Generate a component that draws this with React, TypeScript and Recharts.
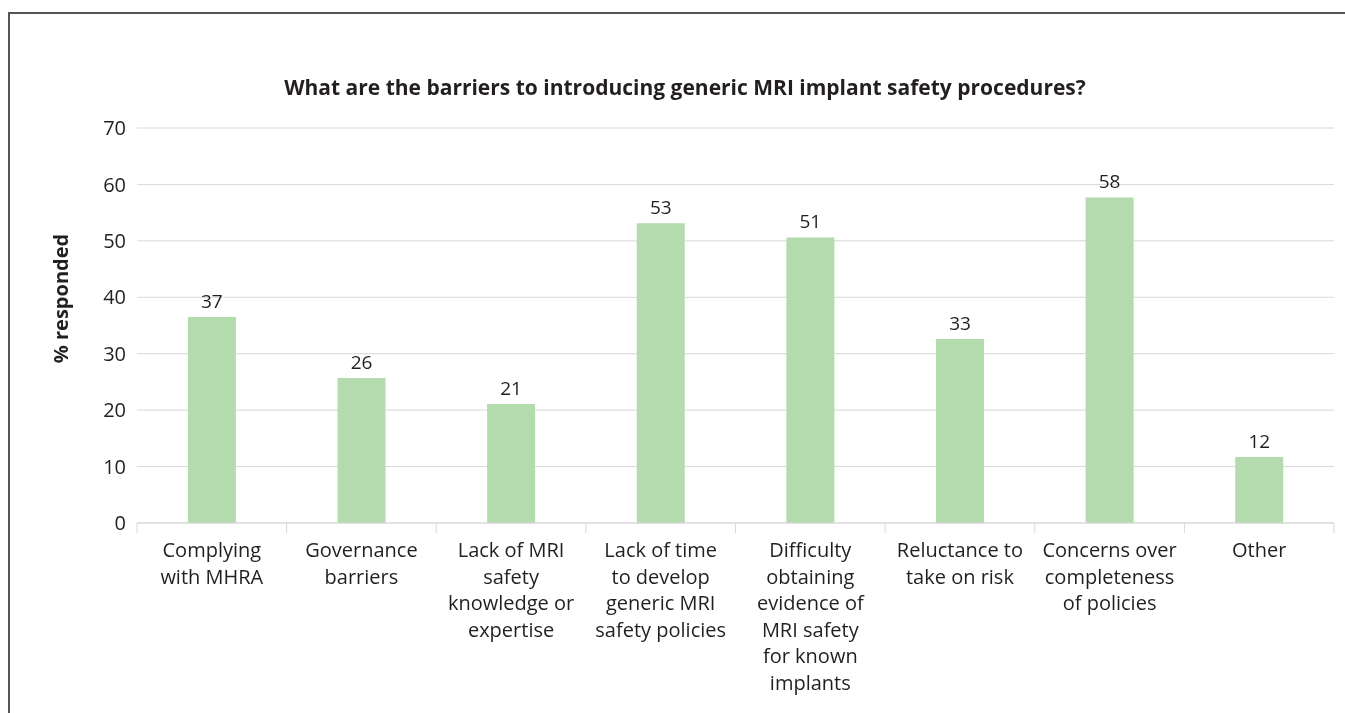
import { BarChart, Bar, XAxis, YAxis, CartesianGrid, LabelList } from 'recharts';

const categories = [
  'Complying\nwith MHRA',
  'Governance\nbarriers',
  'Lack of MRI\nsafety\nknowledge or\nexpertise',
  'Lack of time\nto develop\ngeneric MRI\nsafety policies',
  'Difficulty\nobtaining\nevidence of\nMRI safety\nfor known\nimplants',
  'Reluctance to\ntake on risk',
  'Concerns over\ncompleteness\nof policies',
  'Other',
];

const responded = [36.5, 25.7, 21.1, 53.1, 50.6, 32.6, 57.7, 11.7];

const yTicks = [0, 10, 20, 30, 40, 50, 60, 70];

const chartData = categories.map((name, i) => ({ name, value: responded[i] }));

const FONT = '"Open Sans", sans-serif';
const GRID = '#d9d9d9';
const TEXT = '#231f20';

const CategoryTick = (props: any) => {
  const { x, y, payload, index, width } = props;
  const band = (width || 1197) / categories.length;
  const axisY = y - 14;
  const lines = String(payload.value).split('\n');
  return (
    <g>
      <line x1={x - band / 2} x2={x - band / 2} y1={axisY} y2={axisY + 10} stroke={GRID} />
      {index === categories.length - 1 && (
        <line x1={x + band / 2} x2={x + band / 2} y1={axisY} y2={axisY + 10} stroke={GRID} />
      )}
      <text x={x} y={y} textAnchor="middle" fontSize={20} fill={TEXT} fontFamily={FONT}>
        {lines.map((l, i) => (
          <tspan key={i} x={x} dy={i === 0 ? 20 : 26.6}>
            {l}
          </tspan>
        ))}
      </text>
    </g>
  );
};

export default function App() {
  // fixed so the frame never makes the page scroll
  return (
    <div
      style={{
        position: 'fixed',
        top: 12,
        left: 8,
        width: 1337,
        height: 701,
        borderTop: '2px solid #555',
        borderLeft: '2px solid #555',
        boxSizing: 'border-box',
        fontFamily: FONT,
        overflow: 'hidden',
      }}
    >
      <div
        style={{
          position: 'absolute',
          top: 59,
          left: 0,
          width: 1350,
          textAlign: 'center',
          fontWeight: 700,
          fontSize: 21,
          color: TEXT,
          whiteSpace: 'nowrap',
        }}
      >
        What are the barriers to introducing generic MRI implant safety procedures?
      </div>
      <div
        style={{
          position: 'absolute',
          left: 58 - 8 - 100,
          top: 285 - 14,
          width: 200,
          textAlign: 'center',
          transform: 'rotate(-90deg)',
          fontWeight: 700,
          fontSize: 20,
          color: TEXT,
        }}
      >
        % responded
      </div>
      <div style={{ position: 'absolute', left: 0, top: 0 }}>
        <BarChart
          width={1335}
          height={698}
          data={chartData}
          margin={{ top: 114, right: 11, bottom: 14, left: 0 }}
          barCategoryGap="34%"
        >
          <CartesianGrid vertical={false} stroke={GRID} />
          <XAxis
            dataKey="name"
            interval={0}
            height={175}
            tickLine={false}
            tickSize={0}
            tickMargin={14}
            axisLine={{ stroke: GRID }}
            tick={<CategoryTick />}
          />
          <YAxis
            domain={[0, 70]}
            ticks={yTicks}
            width={127}
            axisLine={false}
            tickLine={false}
            tickSize={0}
            tickMargin={11}
            tick={{ fontSize: 20, fill: TEXT, fontFamily: FONT }}
          />
          <Bar dataKey="value" fill="#b4dbae" isAnimationActive={false}>
            <LabelList
              dataKey="value"
              position="top"
              offset={9}
              formatter={(v: any) => Math.round(Number(v))}
              style={{ fontSize: 19, fill: TEXT, fontFamily: FONT }}
            />
          </Bar>
        </BarChart>
      </div>
    </div>
  );
}
